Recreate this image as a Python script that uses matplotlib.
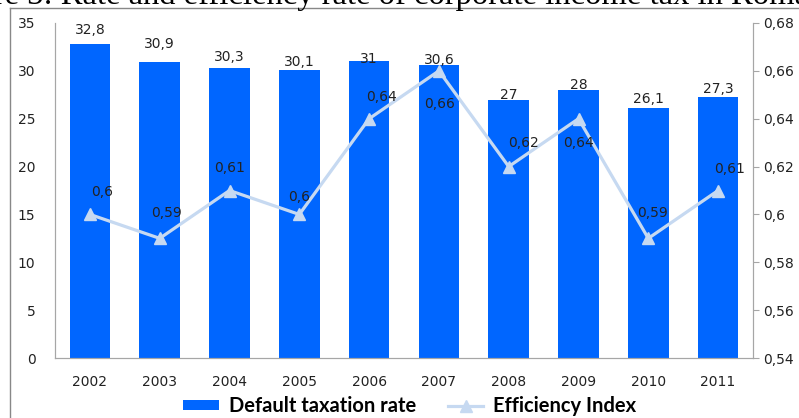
import numpy as np
import matplotlib.pyplot as plt
from matplotlib.lines import Line2D

years = ["2002", "2003", "2004", "2005", "2006", "2007", "2008", "2009", "2010", "2011"]
tax_rate = [32.8, 30.9, 30.3, 30.1, 31, 30.6, 27, 28, 26.1, 27.3]
eff_index = [0.6, 0.59, 0.61, 0.6, 0.64, 0.66, 0.62, 0.64, 0.59, 0.61]

bar_col = "#0066ff"
line_col = "#c6d9f1"
grey = "#a6a6a6"

def comma(v):
    s = ("%.2f" % v).rstrip("0").rstrip(".")
    return s.replace(".", ",")

fig = plt.figure(figsize=(7.99, 4.18), dpi=100)
ax = fig.add_axes([55/799, 1-358/418, 698/799, 335/418])
ax2 = ax.twinx()

x = np.arange(len(years))
bars = ax.bar(x, tax_rate, width=0.58, color=bar_col, label="Default taxation rate", zorder=2)
ax2.plot(x, eff_index, color=line_col, lw=2.3, marker="^", ms=8, label="Efficiency Index", zorder=3)

ax.set_xlim(-0.5, 9.5)
ax.set_ylim(0, 35)
ax.set_yticks(range(0, 36, 5))
ax2.set_ylim(0.54, 0.68)
ax2.set_yticks([0.54, 0.56, 0.58, 0.6, 0.62, 0.64, 0.66, 0.68])
ax2.set_yticklabels([comma(v) for v in ax2.get_yticks()])
ax.set_xticks(x)
ax.set_xticklabels(years)

for a in (ax, ax2):
    a.spines["top"].set_visible(False)
    for s in ("left", "right", "bottom"):
        a.spines[s].set_color(grey)
ax.tick_params(axis="y", length=0, pad=14, labelsize=10, labelcolor="#222222")
ax.tick_params(axis="x", length=0, pad=12, labelsize=10, labelcolor="#222222")
ax2.tick_params(axis="y", length=4, color=grey, pad=3, labelsize=10, labelcolor="#222222")

# bar value labels (pixel offsets above bar tops)
bar_off = [14, 18, 11, 8, 2, 5, 5, 5, 9, 8]
for i, v in enumerate(tax_rate):
    ax.annotate(comma(v), (x[i], v), xytext=(0, bar_off[i]), textcoords="offset pixels",
                ha="center", va="center", fontsize=10, color="#222222", zorder=5)

# line value labels
lbl_off = [(12, 22), (7, 25), (0, 23), (0, 17), (12, 22), (1, -33), (15, 24), (0, -24), (4, 25), (11, 22)]
for i, v in enumerate(eff_index):
    ax2.annotate(comma(v), (x[i], v), xytext=lbl_off[i], textcoords="offset pixels",
                 ha="center", va="center", fontsize=10, color="#222222", zorder=5)

# frame around the chart
fig.add_artist(Line2D([10/799, 10/799], [0, 1-8/418], color="#888888", lw=1))
fig.add_artist(Line2D([10/799, 1], [1-8/418, 1-8/418], color="#888888", lw=1))

# caption of the source page, cut off at the top
fig.text(-0.082, 1-4/418, "Figure 3: Rate and efficiency rate of corporate income tax in Romania",
         family="Liberation Serif", fontsize=23.5, ha="left", va="baseline")

h1, l1 = ax.get_legend_handles_labels()
h2, l2 = ax2.get_legend_handles_labels()
fig.legend(h1 + h2, l1 + l2, loc="center", bbox_to_anchor=(0.513, 1-406/418), ncol=2,
           frameon=False, prop={"family": "Lato", "weight": "bold", "size": 14.5},
           handlelength=1.75, handleheight=0.4, columnspacing=1.6, handletextpad=0.5)

fig.savefig("out.png", dpi=100)
